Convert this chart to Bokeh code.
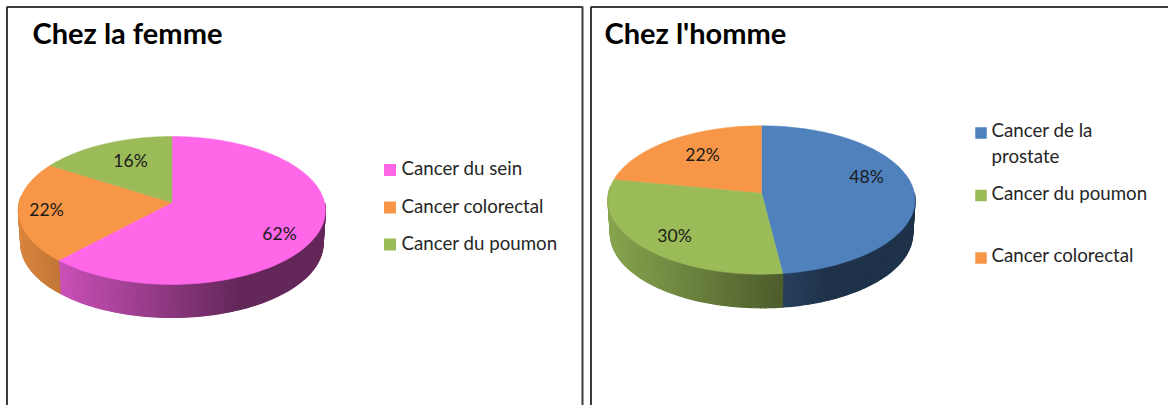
import math
from bokeh.plotting import figure
from bokeh.models import Range1d, ColumnDataSource
from bokeh.core.properties import value
from bokeh.embed import file_html
from bokeh.resources import INLINE

# ---- data ----
femme_categories = ["Cancer du sein", "Cancer colorectal", "Cancer du poumon"]
femme_values = [62, 22, 16]
femme_colors = ["#FF66E8", "#F79646", "#9BBB59"]

homme_categories = ["Cancer de la prostate", "Cancer du poumon", "Cancer colorectal"]
homme_values = [48, 30, 22]
homme_colors = ["#4F81BD", "#9BBB59", "#F79646"]

# ---- layout (page pixels) ----
W, H = 1168, 405
LEFT = dict(cx=172.4, cy=202.0, R=152.6, S=73.1, a=0.108, depth=33.0, x0=19.4, x1=326.0)
RIGHT = dict(cx=762.0, cy=192.3, R=152.8, S=73.5, a=0.097, depth=33.6, x0=608.2, x1=915.8)

p = figure(width=W, height=H, x_range=Range1d(1, W + 1), y_range=Range1d(H, 0),
           output_backend="svg", toolbar_location=None, min_border=0,
           styles={"position": "absolute", "left": "0px", "top": "0px"})
p.axis.visible = False
p.grid.visible = False
p.outline_line_color = None
p.background_fill_color = "white"


def rim(g, deg, lower=False):
    t = math.radians(deg)
    u, v = math.sin(t), math.cos(t)
    w = 1 + g["a"] * v
    k = 0.985 if lower else 1.0
    x = g["cx"] + k * g["R"] * u / w
    y = g["cy"] - g["S"] * v / w + (g["depth"] if lower else 0)
    return x, y


def shade(g, x):
    f = (x - g["x0"]) / (g["x1"] - g["x0"])
    return max(0.39, 0.88 - (0.88 - 0.39) * f / 0.72)


def scaled(color, k):
    r, gg, b = (int(color[i:i + 2], 16) for i in (1, 3, 5))
    return "#%02x%02x%02x" % (int(r * k), int(gg * k), int(b * k))


def draw_pie(g, values, colors):
    total = sum(values)
    # side wall
    xs, ys, fills = [], [], []
    start = 0.0
    for val, col in zip(values, colors):
        end = start + 360.0 * val / total
        d = max(start, 90.0)
        stop = min(end, 275.0)
        while d < stop:
            e = min(d + 1.5, stop)
            a, b = rim(g, d), rim(g, e)
            c, dd = rim(g, e, True), rim(g, d, True)
            xs.append([a[0], b[0], c[0], dd[0]])
            ys.append([a[1], b[1], c[1], dd[1]])
            fills.append(scaled(col, shade(g, (a[0] + b[0]) / 2)))
            d = e
        start = end
    src = ColumnDataSource(dict(xs=xs, ys=ys, fill=fills))
    p.patches("xs", "ys", source=src, fill_color="fill", line_color="fill", line_width=1.2)
    # top face
    xs, ys, fills = [], [], []
    start = 0.0
    for val, col in zip(values, colors):
        end = start + 360.0 * val / total
        n = max(4, int((end - start) / 1.5))
        pts = [rim(g, start + (end - start) * i / n) for i in range(n + 1)]
        xs.append([g["cx"]] + [q[0] for q in pts])
        ys.append([g["cy"]] + [q[1] for q in pts])
        fills.append(col)
        start = end
    src = ColumnDataSource(dict(xs=xs, ys=ys, fill=fills))
    p.patches("xs", "ys", source=src, fill_color="fill", line_color="fill", line_width=0.5)


draw_pie(LEFT, femme_values, femme_colors)
draw_pie(RIGHT, homme_values, homme_colors)

# frames
frame = "#3c3c3c"
p.line([7.5, 7.5, 583, 583], [H, 6.5, 6.5, H], line_color=frame, line_width=2)
p.line([591.5, 591.5, W + 1], [H, 6.5, 6.5], line_color=frame, line_width=2)


def put(x, y, labels, size, color="#111111", style="normal", align="left"):
    p.text(x, y, text=labels, text_font=value("Lato"), text_font_size=size,
           text_font_style=style, text_color=color, text_align=align, text_baseline="middle")


# titles
put([33, 605], [32, 32], ["Chez la femme", "Chez l'homme"], "29px", "#000000", "bold")

# percentage labels
pct_x = [280, 47, 131, 867, 675, 703]
pct_y = [233, 209, 160, 176, 235, 154]
pct_text = ["%d%%" % v for v in femme_values + homme_values]
put(pct_x, pct_y, pct_text, "17.5px", "#1a1a1a", align="center")

# legends
p.scatter([390.5] * 3, [169.5, 207, 244], marker="square", size=12, fill_color=femme_colors, line_color=None)
put([402] * 3, [167, 205, 242], femme_categories, "18.7px", "#262626")
p.scatter([981.5] * 3, [132.5, 195, 257.5], marker="square", size=11.5, fill_color=homme_colors, line_color=None)
put([992] * 4, [129, 155, 192, 254],
    ["Cancer de la", "prostate", homme_categories[1], homme_categories[2]], "18.7px", "#262626")

open("out.html", "w").write(file_html(p, INLINE))
